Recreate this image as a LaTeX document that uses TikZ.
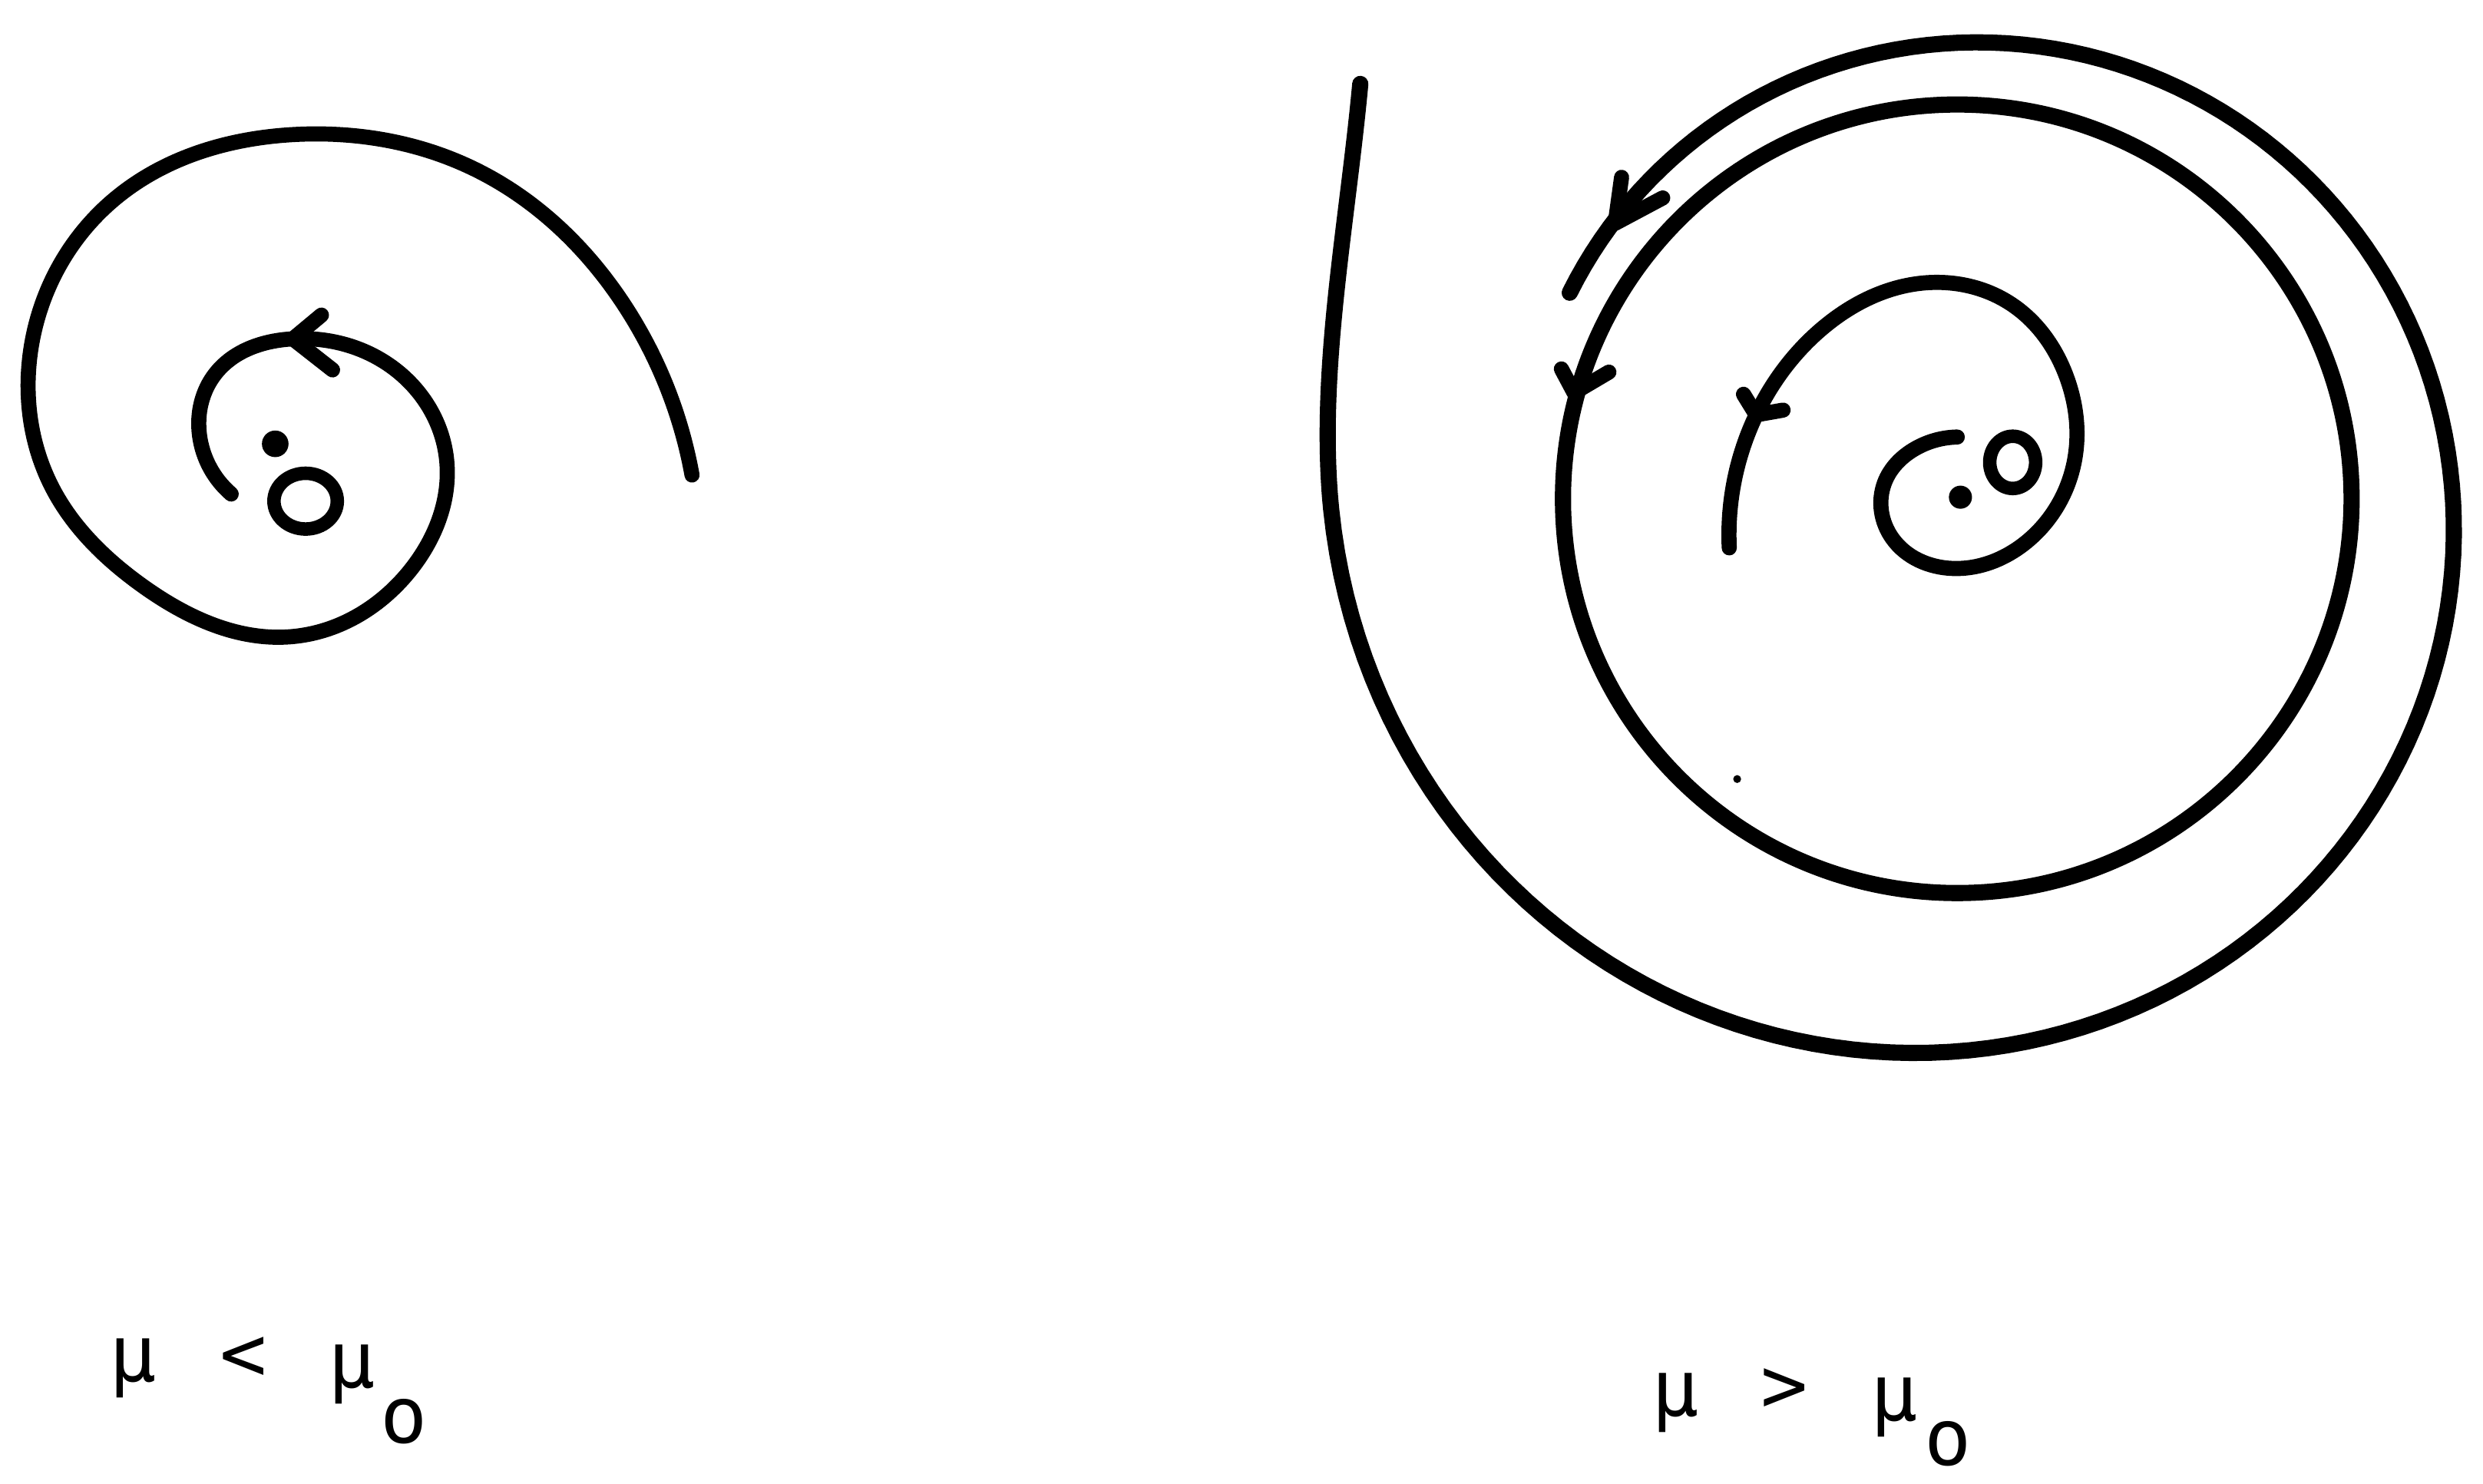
\documentclass[tikz,border=0pt]{standalone}
\usepackage{fontspec}
\usetikzlibrary{hobby}
\newfontfamily\labfont{DejaVu Sans Mono}
\tikzset{
  curve/.style={line width=6pt, line cap=round, line join=round},
  thincurve/.style={line width=5.6pt, line cap=round, line join=round},
  barb/.style={line width=5.6pt, line cap=round, line join=round},
  lab/.style={font=\labfont\fontsize{29}{30}\selectfont, inner sep=0pt, anchor=center},
}
\begin{document}
\begin{tikzpicture}[x=0.020625cm, y=-0.020625cm,
  declare function={rr(\a)=396-52.5*((\a-180)/90)+5.5*((\a-180)/90)*((\a-180)/90);}]
\useasboundingbox (0,0) rectangle (1568,937);

% ---------- left picture: mu < mu0 ----------
\draw[thincurve, use Hobby shortcut]
 (437,300) .. (397,197) .. (298,106) .. (185,85) .. (72,126) .. (19,224)
 .. (33,308) .. (90,370) .. (185,402) .. (260,359) .. (282,290) .. (245,230)
 .. (185,214) .. (136,236) .. (126,275) .. (146,312);
\draw[barb] (203,199) -- (185,214) -- (210,233.6);
\fill (173.8,280.3) circle (8.4);
\draw[line width=5pt] (193,316.5) ellipse (20 and 17.6);

% ---------- right picture: mu > mu0 ----------
% outer trajectory (spirals in towards the cycle)
\draw[curve] (859,53) .. controls (851,140) and (833,230) .. (840,315)
 -- plot[domain=181:512, samples=166, variable=\t]
 ({1236+rr(\t)*cos(\t)}, {315-rr(\t)*sin(\t)});
% limit cycle
\draw[curve] (1236,315) circle (249);
\draw[barb] (1024,112) -- (1020,141) -- (1050,125);
\draw[barb] (986,233) -- (994,248) -- (1016,235);

% inner trajectory (spirals out towards the cycle)
\draw[thincurve, use Hobby shortcut]
 (1092,346) .. (1109,262) .. (1150,208) .. (1212,179) .. (1270,192) .. (1305,238)
 .. (1310,291) .. (1280,342) .. (1233,359) .. (1195,340) .. (1190,305)
 .. (1210,283) .. (1236,276);
\draw[barb] (1101,249) -- (1109,262) -- (1126,259);
\fill (1238,314) circle (7.3);
\draw[line width=5pt] (1271,292) ellipse (14.5 and 16.5);
\fill (1097,492) circle (2.5);

% ---------- labels ----------
\node[lab] (m1) at (84,864) {μ};
\node[lab] (lt) at (154,858) {<};
\node[lab] (m2) at (222,868) {μ};
\node[lab] (o1) at (255,898) {o};

\node[lab] (m3) at (1058,886) {μ};
\node[lab] (gt) at (1127,878) {>};
\node[lab] (m4) at (1196,889) {μ};
\node[lab] (o2) at (1230,912) {o};
\end{tikzpicture}
\end{document}
